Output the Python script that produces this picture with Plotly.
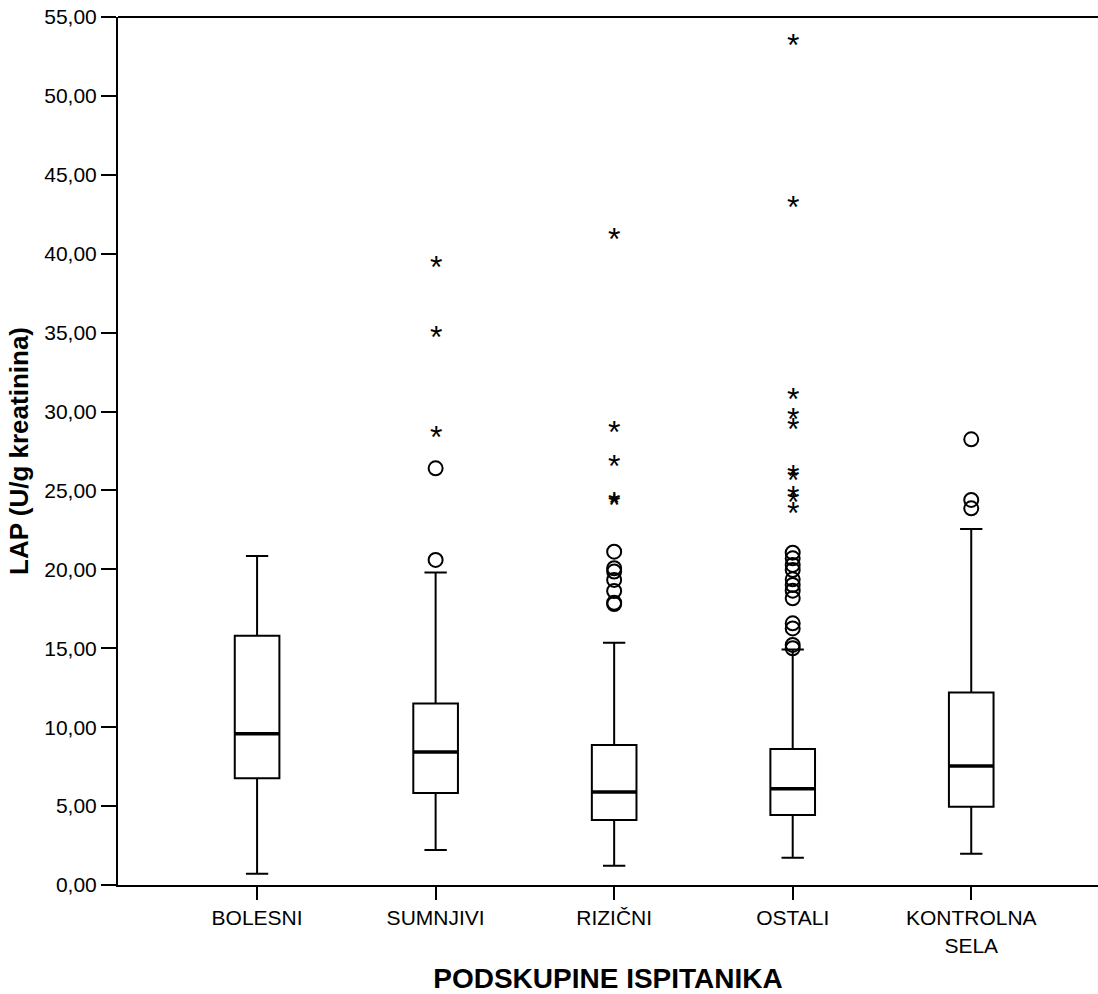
import plotly.graph_objects as go

categories = ["BOLESNI", "SUMNJIVI", "RIZIČNI", "OSTALI", "KONTROLNA<br>SELA"]
lower_fence = [0.72, 2.22, 1.22, 1.73, 1.98]
q1 = [6.76, 5.83, 4.12, 4.44, 4.96]
median = [9.58, 8.43, 5.90, 6.10, 7.54]
q3 = [15.80, 11.50, 8.87, 8.62, 12.19]
upper_fence = [20.85, 19.80, 15.35, 14.93, 22.56]

# mild outliers (circles)
circle_cat = (["SUMNJIVI"] * 2
              + ["RIZIČNI"] * 7
              + ["OSTALI"] * 12
              + ["KONTROLNA<br>SELA"] * 3)
circle_val = ([20.60, 26.40]
              + [21.12, 20.07, 19.86, 19.33, 18.63, 17.89, 17.80]
              + [21.06, 20.70, 20.28, 19.96, 19.37, 19.01, 18.65, 18.17, 16.58, 16.26, 15.21, 15.00]
              + [28.24, 24.40, 23.87])

# extreme outliers (stars)
star_cat = (["SUMNJIVI"] * 3
            + ["RIZIČNI"] * 5
            + ["OSTALI"] * 10)
star_val = ([28.66, 34.95, 39.42]
            + [41.20, 28.94, 26.83, 24.45, 24.35]
            + [53.50, 43.24, 31.05, 29.78, 29.15, 26.19, 25.92, 24.82, 24.50, 23.80])

y_ticks = [0, 5, 10, 15, 20, 25, 30, 35, 40, 45, 50, 55]

FONT = "Arial, 'Liberation Sans', sans-serif"
BOX_W = 0.25
pos = list(range(len(categories)))

fig = go.Figure()

fig.add_trace(go.Box(
    x=pos,
    q1=q1, median=median, q3=q3,
    lowerfence=lower_fence, upperfence=upper_fence,
    width=BOX_W, whiskerwidth=0.5,
    fillcolor="white",
    line=dict(color="black", width=2),
    boxpoints=False,
    hoverinfo="skip",
    showlegend=False,
))

# thicker median lines
mx, my = [], []
for i, m in zip(pos, median):
    mx += [i - BOX_W / 2, i + BOX_W / 2, None]
    my += [m, m, None]
fig.add_trace(go.Scatter(
    x=mx, y=my, mode="lines",
    line=dict(color="black", width=3.5),
    hoverinfo="skip", showlegend=False,
))

fig.add_trace(go.Scatter(
    x=[categories.index(c) for c in circle_cat], y=circle_val, mode="markers",
    marker=dict(symbol="circle-open", size=14, color="black", line=dict(width=2)),
    hoverinfo="skip", showlegend=False,
))

for c, v in zip(star_cat, star_val):
    fig.add_annotation(
        x=categories.index(c), y=v, xref="x", yref="y",
        text="*", showarrow=False,
        xanchor="center", yanchor="middle", yshift=-4,
        font=dict(family=FONT, size=32, color="black"),
    )

# top frame line (open on the right, as in the original)
fig.add_shape(type="line", xref="paper", yref="paper", x0=0, x1=1, y0=1, y1=1,
              line=dict(color="black", width=2), layer="above")

x_range = [-0.779, 4.71]

fig.update_layout(
    width=1098, height=994,
    margin=dict(l=118, r=0, t=17, b=109),
    paper_bgcolor="white", plot_bgcolor="white",
    separators=", ",
    font=dict(family=FONT, size=21, color="black"),
    xaxis=dict(
        range=x_range,
        tickvals=pos, ticktext=categories,
        showline=True, linecolor="black", linewidth=2, mirror=False,
        ticks="outside", ticklen=13, tickwidth=2, tickcolor="black",
        showgrid=False, zeroline=False, automargin=False, showspikes=False,
        tickfont=dict(size=21),
        title=dict(text="<b>PODSKUPINE ISPITANIKA</b>", font=dict(size=28), standoff=20),
    ),
    yaxis=dict(
        range=[0, 55],
        tickvals=y_ticks, tickformat=".2f",
        showline=True, linecolor="black", linewidth=2, mirror=False,
        ticks="outside", ticklen=15, tickwidth=2, tickcolor="black",
        showgrid=False, zeroline=False, automargin=False, showspikes=False,
        tickfont=dict(size=21),
        title=dict(text="<b>LAP (U/g kreatinina)</b>", font=dict(size=26), standoff=8),
    ),
)

fig.write_html("out.html")
